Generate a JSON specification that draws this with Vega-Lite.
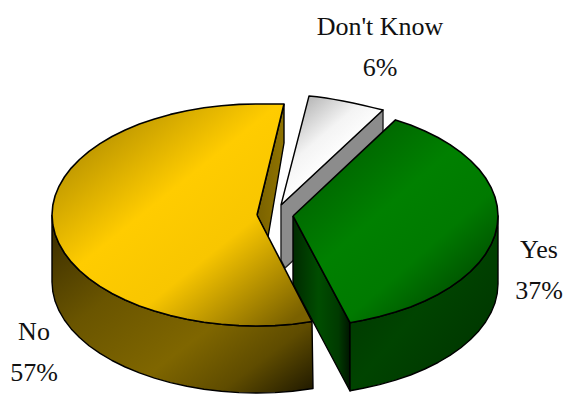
{
  "$schema": "https://vega.github.io/schema/vega-lite/v6.json",
  "width": 566,
  "height": 394,
  "padding": 0,
  "autosize": {"type": "none"},
  "background": "white",
  "view": {"stroke": null},
  "encoding": {
    "x": {"field": "x", "type": "quantitative", "scale": {"domain": [0, 566], "nice": false, "zero": false}, "axis": null},
    "y": {"field": "y", "type": "quantitative", "scale": {"domain": [394, 0], "nice": false, "zero": false}, "axis": null},
    "order": {"field": "n", "type": "quantitative"}
  },
  "datasets": {
    "dontKnowWall": [
      {"n": 1, "x": 281, "y": 205}, {"n": 2, "x": 383, "y": 110}, {"n": 3, "x": 383, "y": 178},
      {"n": 4, "x": 285, "y": 268}, {"n": 5, "x": 281, "y": 260}, {"n": 6, "x": 281, "y": 205}
    ],
    "dontKnowTop": [
      {"n": 1, "x": 281, "y": 205}, {"n": 2, "x": 309, "y": 96}, {"n": 3, "x": 317, "y": 96.8},
      {"n": 4, "x": 326, "y": 98}, {"n": 5, "x": 334, "y": 99.4}, {"n": 6, "x": 343, "y": 101},
      {"n": 7, "x": 353, "y": 103}, {"n": 8, "x": 363, "y": 105.2}, {"n": 9, "x": 373, "y": 107.6},
      {"n": 10, "x": 383, "y": 110}, {"n": 11, "x": 281, "y": 205}
    ],
    "yesSide": [
      {"n": 1, "x": 293, "y": 216}, {"n": 2, "x": 350, "y": 323}, {"n": 3, "x": 350, "y": 391},
      {"n": 4, "x": 293, "y": 284}, {"n": 5, "x": 293, "y": 216}
    ],
    "yesWall": [
      {"n": 1, "x": 350, "y": 322.7}, {"n": 2, "x": 363.1, "y": 320.3}, {"n": 3, "x": 379.6, "y": 316.6},
      {"n": 4, "x": 395.5, "y": 312.1}, {"n": 5, "x": 410.6, "y": 307}, {"n": 6, "x": 424.8, "y": 301},
      {"n": 7, "x": 438, "y": 294.5}, {"n": 8, "x": 450, "y": 287.4}, {"n": 9, "x": 460.9, "y": 279.7},
      {"n": 10, "x": 470.5, "y": 271.5}, {"n": 11, "x": 478.8, "y": 262.9}, {"n": 12, "x": 485.6, "y": 254},
      {"n": 13, "x": 491, "y": 244.7}, {"n": 14, "x": 494.9, "y": 235.3}, {"n": 15, "x": 497.2, "y": 225.7},
      {"n": 16, "x": 498, "y": 216}, {"n": 17, "x": 498, "y": 284}, {"n": 18, "x": 497.2, "y": 293.7},
      {"n": 19, "x": 494.9, "y": 303.3}, {"n": 20, "x": 491, "y": 312.7}, {"n": 21, "x": 485.6, "y": 322},
      {"n": 22, "x": 478.8, "y": 330.9}, {"n": 23, "x": 470.5, "y": 339.5}, {"n": 24, "x": 460.9, "y": 347.7},
      {"n": 25, "x": 450, "y": 355.4}, {"n": 26, "x": 438, "y": 362.5}, {"n": 27, "x": 424.8, "y": 369},
      {"n": 28, "x": 410.6, "y": 375}, {"n": 29, "x": 395.5, "y": 380.1}, {"n": 30, "x": 379.6, "y": 384.6},
      {"n": 31, "x": 363.1, "y": 388.3}, {"n": 32, "x": 350, "y": 390.7}, {"n": 33, "x": 350, "y": 322.7}
    ],
    "yesTop": [
      {"n": 1, "x": 293, "y": 216}, {"n": 2, "x": 395.5, "y": 119.9}, {"n": 3, "x": 410.6, "y": 125},
      {"n": 4, "x": 424.8, "y": 131}, {"n": 5, "x": 438, "y": 137.5}, {"n": 6, "x": 450, "y": 144.6},
      {"n": 7, "x": 460.9, "y": 152.3}, {"n": 8, "x": 470.5, "y": 160.5}, {"n": 9, "x": 478.8, "y": 169.1},
      {"n": 10, "x": 485.6, "y": 178}, {"n": 11, "x": 491, "y": 187.3}, {"n": 12, "x": 494.9, "y": 196.7},
      {"n": 13, "x": 497.2, "y": 206.3}, {"n": 14, "x": 498, "y": 216}, {"n": 15, "x": 497.2, "y": 225.7},
      {"n": 16, "x": 494.9, "y": 235.3}, {"n": 17, "x": 491, "y": 244.7}, {"n": 18, "x": 485.6, "y": 254},
      {"n": 19, "x": 478.8, "y": 262.9}, {"n": 20, "x": 470.5, "y": 271.5}, {"n": 21, "x": 460.9, "y": 279.7},
      {"n": 22, "x": 450, "y": 287.4}, {"n": 23, "x": 438, "y": 294.5}, {"n": 24, "x": 424.8, "y": 301},
      {"n": 25, "x": 410.6, "y": 307}, {"n": 26, "x": 395.5, "y": 312.1}, {"n": 27, "x": 379.6, "y": 316.6},
      {"n": 28, "x": 363.1, "y": 320.3}, {"n": 29, "x": 350, "y": 322.7}, {"n": 30, "x": 293, "y": 216}
    ],
    "noInner": [
      {"n": 1, "x": 284, "y": 104}, {"n": 2, "x": 284, "y": 143}, {"n": 3, "x": 268, "y": 237},
      {"n": 4, "x": 257, "y": 215}, {"n": 5, "x": 284, "y": 104}
    ],
    "noWall": [
      {"n": 1, "x": 52, "y": 215}, {"n": 2, "x": 52.8, "y": 224.7}, {"n": 3, "x": 55.1, "y": 234.3},
      {"n": 4, "x": 59, "y": 243.7}, {"n": 5, "x": 64.4, "y": 253}, {"n": 6, "x": 71.2, "y": 261.9},
      {"n": 7, "x": 79.5, "y": 270.5}, {"n": 8, "x": 89, "y": 278.7}, {"n": 9, "x": 100, "y": 286.4},
      {"n": 10, "x": 112, "y": 293.5}, {"n": 11, "x": 125.2, "y": 300}, {"n": 12, "x": 139.4, "y": 305.9},
      {"n": 13, "x": 154.5, "y": 311.1}, {"n": 14, "x": 170.4, "y": 315.6}, {"n": 15, "x": 186.9, "y": 319.3},
      {"n": 16, "x": 204, "y": 322.2}, {"n": 17, "x": 221.4, "y": 324.3}, {"n": 18, "x": 239, "y": 325.6},
      {"n": 19, "x": 257, "y": 326}, {"n": 20, "x": 275, "y": 325.6}, {"n": 21, "x": 292.6, "y": 324.3},
      {"n": 22, "x": 312, "y": 321.5}, {"n": 23, "x": 313, "y": 388.5}, {"n": 24, "x": 292.6, "y": 391.3},
      {"n": 25, "x": 275, "y": 392.6}, {"n": 26, "x": 257, "y": 393}, {"n": 27, "x": 239, "y": 392.6},
      {"n": 28, "x": 221.4, "y": 391.3}, {"n": 29, "x": 204, "y": 389.2}, {"n": 30, "x": 186.9, "y": 386.3},
      {"n": 31, "x": 170.4, "y": 382.6}, {"n": 32, "x": 154.5, "y": 378.1}, {"n": 33, "x": 139.4, "y": 372.9},
      {"n": 34, "x": 125.2, "y": 367}, {"n": 35, "x": 112, "y": 360.5}, {"n": 36, "x": 100, "y": 353.4},
      {"n": 37, "x": 89, "y": 345.7}, {"n": 38, "x": 79.5, "y": 337.5}, {"n": 39, "x": 71.2, "y": 328.9},
      {"n": 40, "x": 64.4, "y": 320}, {"n": 41, "x": 59, "y": 310.7}, {"n": 42, "x": 55.1, "y": 301.3},
      {"n": 43, "x": 52.8, "y": 291.7}, {"n": 44, "x": 52, "y": 282}, {"n": 45, "x": 52, "y": 215}
    ],
    "noTop": [
      {"n": 1, "x": 257, "y": 215}, {"n": 2, "x": 284, "y": 104}, {"n": 3, "x": 257, "y": 104},
      {"n": 4, "x": 239, "y": 104.4}, {"n": 5, "x": 221.4, "y": 105.7}, {"n": 6, "x": 204, "y": 107.8},
      {"n": 7, "x": 186.9, "y": 110.7}, {"n": 8, "x": 170.4, "y": 114.4}, {"n": 9, "x": 154.5, "y": 118.9},
      {"n": 10, "x": 139.4, "y": 124.1}, {"n": 11, "x": 125.2, "y": 130}, {"n": 12, "x": 112, "y": 136.5},
      {"n": 13, "x": 100, "y": 143.6}, {"n": 14, "x": 89, "y": 151.3}, {"n": 15, "x": 79.5, "y": 159.5},
      {"n": 16, "x": 71.2, "y": 168.1}, {"n": 17, "x": 64.4, "y": 177}, {"n": 18, "x": 59, "y": 186.3},
      {"n": 19, "x": 55.1, "y": 195.7}, {"n": 20, "x": 52.8, "y": 205.3}, {"n": 21, "x": 52, "y": 215},
      {"n": 22, "x": 52.8, "y": 224.7}, {"n": 23, "x": 55.1, "y": 234.3}, {"n": 24, "x": 59, "y": 243.7},
      {"n": 25, "x": 64.4, "y": 253}, {"n": 26, "x": 71.2, "y": 261.9}, {"n": 27, "x": 79.5, "y": 270.5},
      {"n": 28, "x": 89, "y": 278.7}, {"n": 29, "x": 100, "y": 286.4}, {"n": 30, "x": 112, "y": 293.5},
      {"n": 31, "x": 125.2, "y": 300}, {"n": 32, "x": 139.4, "y": 305.9}, {"n": 33, "x": 154.5, "y": 311.1},
      {"n": 34, "x": 170.4, "y": 315.6}, {"n": 35, "x": 186.9, "y": 319.3}, {"n": 36, "x": 204, "y": 322.2},
      {"n": 37, "x": 221.4, "y": 324.3}, {"n": 38, "x": 239, "y": 325.6}, {"n": 39, "x": 257, "y": 326},
      {"n": 40, "x": 275, "y": 325.6}, {"n": 41, "x": 292.6, "y": 324.3}, {"n": 42, "x": 312, "y": 321.5},
      {"n": 43, "x": 257, "y": 215}
    ],
    "labels": [
      {"label": "Don't Know\n6%", "x": 380, "y": 35},
      {"label": "Yes\n37%", "x": 539, "y": 258},
      {"label": "No\n57%", "x": 34, "y": 340}
    ]
  },
  "layer": [
    {
      "data": {"name": "dontKnowWall"},
      "mark": {"type": "line", "stroke": "#222222", "strokeWidth": 1.4, "strokeJoin": "round", "fill": "#8c8c8c"}
    },
    {
      "data": {"name": "dontKnowTop"},
      "mark": {
        "type": "line", "stroke": "#000000", "strokeWidth": 1.4, "strokeJoin": "round",
        "fill": {"gradient": "linear", "x1": 0.25, "y1": 0, "x2": 0.65, "y2": 0.5,
          "stops": [{"offset": 0, "color": "#b4b4b4"}, {"offset": 0.6, "color": "#f4f4f4"}, {"offset": 1, "color": "#ffffff"}]}
      }
    },
    {
      "data": {"name": "yesSide"},
      "mark": {
        "type": "line", "stroke": "#000000", "strokeWidth": 1.4, "strokeJoin": "round",
        "fill": {"gradient": "linear", "x1": 0, "y1": 0, "x2": 1, "y2": 0,
          "stops": [{"offset": 0, "color": "#002a00"}, {"offset": 0.45, "color": "#004d00"}, {"offset": 0.8, "color": "#003a00"}, {"offset": 1, "color": "#001500"}]}
      }
    },
    {
      "data": {"name": "yesWall"},
      "mark": {
        "type": "line", "stroke": "#000000", "strokeWidth": 1.4, "strokeJoin": "round",
        "fill": {"gradient": "linear", "x1": 0, "y1": 0, "x2": 1, "y2": 1,
          "stops": [{"offset": 0, "color": "#003000"}, {"offset": 0.5, "color": "#004400"}, {"offset": 1, "color": "#003000"}]}
      }
    },
    {
      "data": {"name": "yesTop"},
      "mark": {
        "type": "line", "stroke": "#000000", "strokeWidth": 1.6, "strokeJoin": "round",
        "fill": {"gradient": "linear", "x1": 0.2, "y1": 0.05, "x2": 0.95, "y2": 0.9,
          "stops": [{"offset": 0, "color": "#005e00"}, {"offset": 0.4, "color": "#008000"}, {"offset": 0.65, "color": "#007a00"}, {"offset": 1, "color": "#004000"}]}
      }
    },
    {
      "data": {"name": "noInner"},
      "mark": {
        "type": "line", "stroke": "#000000", "strokeWidth": 1.4, "strokeJoin": "round",
        "fill": {"gradient": "linear", "x1": 0, "y1": 0, "x2": 1, "y2": 0,
          "stops": [{"offset": 0, "color": "#7a6200"}, {"offset": 1, "color": "#8f7300"}]}
      }
    },
    {
      "data": {"name": "noWall"},
      "mark": {
        "type": "line", "stroke": "#000000", "strokeWidth": 1.4, "strokeJoin": "round",
        "fill": {"gradient": "linear", "x1": 0, "y1": 0.1, "x2": 1, "y2": 1,
          "stops": [{"offset": 0, "color": "#3f3100"}, {"offset": 0.3, "color": "#6a5500"}, {"offset": 0.6, "color": "#7f6600"}, {"offset": 0.8, "color": "#5f4c00"}, {"offset": 1, "color": "#1e1800"}]}
      }
    },
    {
      "data": {"name": "noTop"},
      "mark": {
        "type": "line", "stroke": "#000000", "strokeWidth": 1.6, "strokeJoin": "round",
        "fill": {"gradient": "linear", "x1": 0.1, "y1": 0.05, "x2": 0.95, "y2": 0.95,
          "stops": [{"offset": 0, "color": "#a88600"}, {"offset": 0.4, "color": "#ffcc00"}, {"offset": 0.65, "color": "#f8c600"}, {"offset": 1, "color": "#7a6100"}]}
      }
    },
    {
      "data": {"name": "labels"},
      "mark": {"type": "text", "font": "Liberation Serif", "fontSize": 26, "lineBreak": "\n", "lineHeight": 41, "align": "center", "baseline": "alphabetic", "color": "#111111"},
      "encoding": {"text": {"field": "label"}, "order": {"value": null}}
    }
  ]
}
